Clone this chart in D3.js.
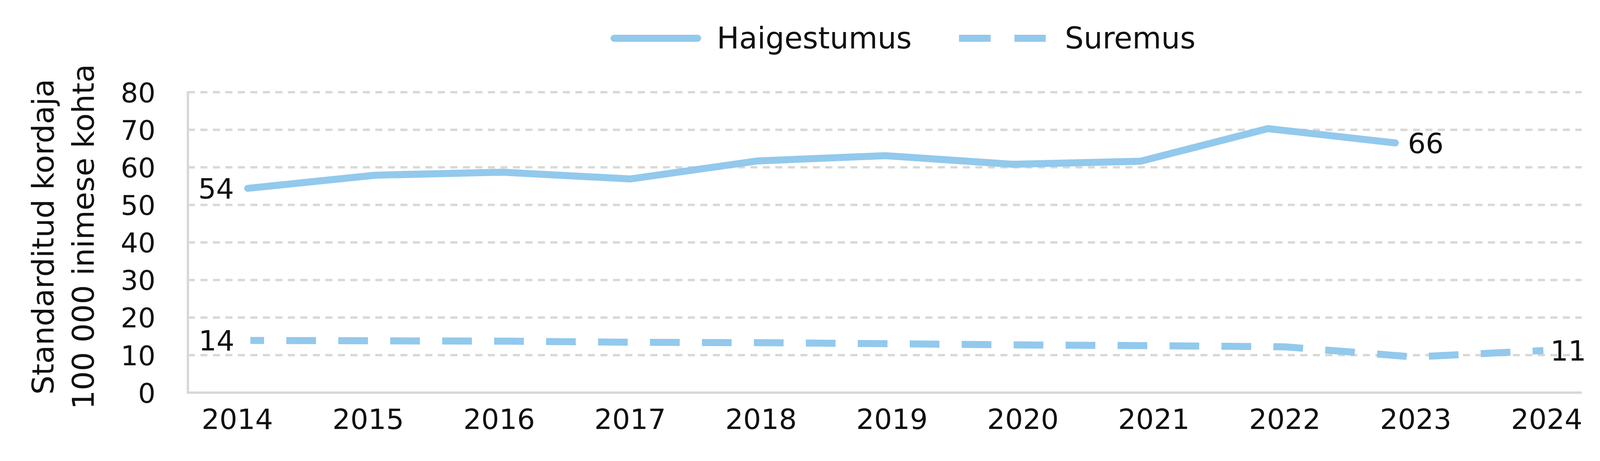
<!DOCTYPE html>
<html>
<head>
<meta charset="utf-8">
<script src="https://cdn.jsdelivr.net/npm/d3@7"></script>
<style>
  html, body { margin: 0; padding: 0; background: #ffffff; }
  svg { display: block; }
  text { font-family: "DejaVu Sans", sans-serif; fill: #111111; }
</style>
</head>
<body>
<svg id="chart" width="4125" height="1180"></svg>
<script>
// ---- data ----
const years = ["2014","2015","2016","2017","2018","2019","2020","2021","2022","2023","2024"];
const haigestumusYears = ["2014","2015","2016","2017","2018","2019","2020","2021","2022","2023"];
const haigestumus = [54.4, 57.9, 58.7, 56.9, 61.7, 63.1, 60.8, 61.6, 70.3, 66.5];
const suremus = [13.9, 13.8, 13.7, 13.4, 13.3, 13.0, 12.7, 12.5, 12.2, 9.5, 11.2];
const yTicks = [0, 10, 20, 30, 40, 50, 60, 70, 80];
const seriesNames = ["Haigestumus", "Suremus"];
const labelFirstH = "54", labelLastH = "66", labelFirstS = "14", labelLastS = "11";
const yTitle = ["Standarditud kordaja", "100 000 inimese kohta"];

// ---- layout ----
const W = 4125, H = 1180;
const plot = { left: 481, right: 4049, top: 236, bottom: 1005 };
const blue = "#92c9ec";
const grid = "#d8d8d5";

const svg = d3.select("#chart");

const y = d3.scaleLinear().domain([0, 80]).range([plot.bottom, plot.top]);
// category label positions
const xLab = d3.scalePoint().domain(years).range([607, 3959]);
// series positions (as drawn in the source chart)
const xH = d3.scalePoint().domain(haigestumusYears).range([634, 3572]);
const xS = d3.scalePoint().domain(years).range([641, 3951]);

// gridlines
svg.append("g").selectAll("line")
  .data(yTicks.filter(d => d > 0))
  .join("line")
  .attr("x1", plot.left).attr("x2", plot.right)
  .attr("y1", d => y(d)).attr("y2", d => y(d))
  .attr("stroke", grid).attr("stroke-width", 6)
  .attr("stroke-dasharray", "18 14");

// axes lines
svg.append("line")
  .attr("x1", plot.left).attr("x2", plot.left)
  .attr("y1", y(80) - 2).attr("y2", plot.bottom + 3)
  .attr("stroke", grid).attr("stroke-width", 6);
svg.append("line")
  .attr("x1", plot.left - 3).attr("x2", plot.right)
  .attr("y1", plot.bottom).attr("y2", plot.bottom)
  .attr("stroke", grid).attr("stroke-width", 6);

// y tick labels
const yAxis = d3.axisLeft(y).tickValues(yTicks).tickSize(0).tickPadding(0);
const gy = svg.append("g").attr("transform", `translate(398,0)`).call(yAxis);
gy.select(".domain").remove();
gy.selectAll("text")
  .attr("font-size", 70).attr("font-family", "DejaVu Sans").attr("fill", "#111")
  .attr("dy", "0.36em").attr("x", 0);

// x tick labels
const xAxis = d3.axisBottom(xLab).tickSize(0).tickPadding(0);
const gx = svg.append("g").attr("transform", `translate(0,1098)`).call(xAxis);
gx.select(".domain").remove();
gx.selectAll("text")
  .attr("font-size", 72).attr("font-family", "DejaVu Sans").attr("fill", "#111")
  .attr("dy", 0).attr("y", 0);

// y title
const yt = svg.append("text")
  .attr("transform", "translate(137,606) rotate(-90)")
  .attr("text-anchor", "middle").attr("font-size", 77);
yt.append("tspan").attr("x", 0).attr("y", 0).text(yTitle[0]);
yt.append("tspan").attr("x", 0).attr("y", 103).text(yTitle[1]);

// lines
const lineH = d3.line().x((d, i) => xH(haigestumusYears[i])).y(d => y(d));
const lineS = d3.line().x((d, i) => xS(years[i])).y(d => y(d));

svg.append("path").datum(haigestumus)
  .attr("d", lineH).attr("fill", "none").attr("stroke", blue)
  .attr("stroke-width", 18).attr("stroke-linejoin", "round").attr("stroke-linecap", "round");

svg.append("path").datum(suremus)
  .attr("d", lineS).attr("fill", "none").attr("stroke", blue)
  .attr("stroke-width", 18).attr("stroke-linejoin", "round").attr("stroke-linecap", "butt")
  .attr("stroke-dasharray", "76 57").attr("stroke-dashoffset", 41);

// data labels
const lblSize = 72;
svg.append("text").attr("x", xH(haigestumusYears[0]) - 35).attr("y", y(haigestumus[0]))
  .attr("dy", "0.36em").attr("text-anchor", "end").attr("font-size", lblSize).text(labelFirstH);
svg.append("text").attr("x", xH(haigestumusYears[haigestumusYears.length - 1]) + 32).attr("y", y(haigestumus[haigestumus.length - 1]))
  .attr("dy", "0.36em").attr("text-anchor", "start").attr("font-size", lblSize).text(labelLastH);
svg.append("text").attr("x", xS(years[0]) - 41).attr("y", y(suremus[0]))
  .attr("dy", "0.36em").attr("text-anchor", "end").attr("font-size", lblSize).text(labelFirstS);
svg.append("text").attr("x", xS(years[years.length - 1]) + 18).attr("y", y(suremus[suremus.length - 1]))
  .attr("dy", "0.36em").attr("text-anchor", "start").attr("font-size", lblSize).text(labelLastS);

// legend
const lg = svg.append("g");
lg.append("line").attr("x1", 1572).attr("x2", 1786).attr("y1", 98).attr("y2", 98)
  .attr("stroke", blue).attr("stroke-width", 18).attr("stroke-linecap", "round");
lg.append("text").attr("x", 1835).attr("y", 124).attr("font-size", 76).text(seriesNames[0]);
lg.append("line").attr("x1", 2455).attr("x2", 2677).attr("y1", 98).attr("y2", 98)
  .attr("stroke", blue).attr("stroke-width", 18).attr("stroke-dasharray", "81 61");
lg.append("text").attr("x", 2726).attr("y", 124).attr("font-size", 76).text(seriesNames[1]);
</script>
</body>
</html>
